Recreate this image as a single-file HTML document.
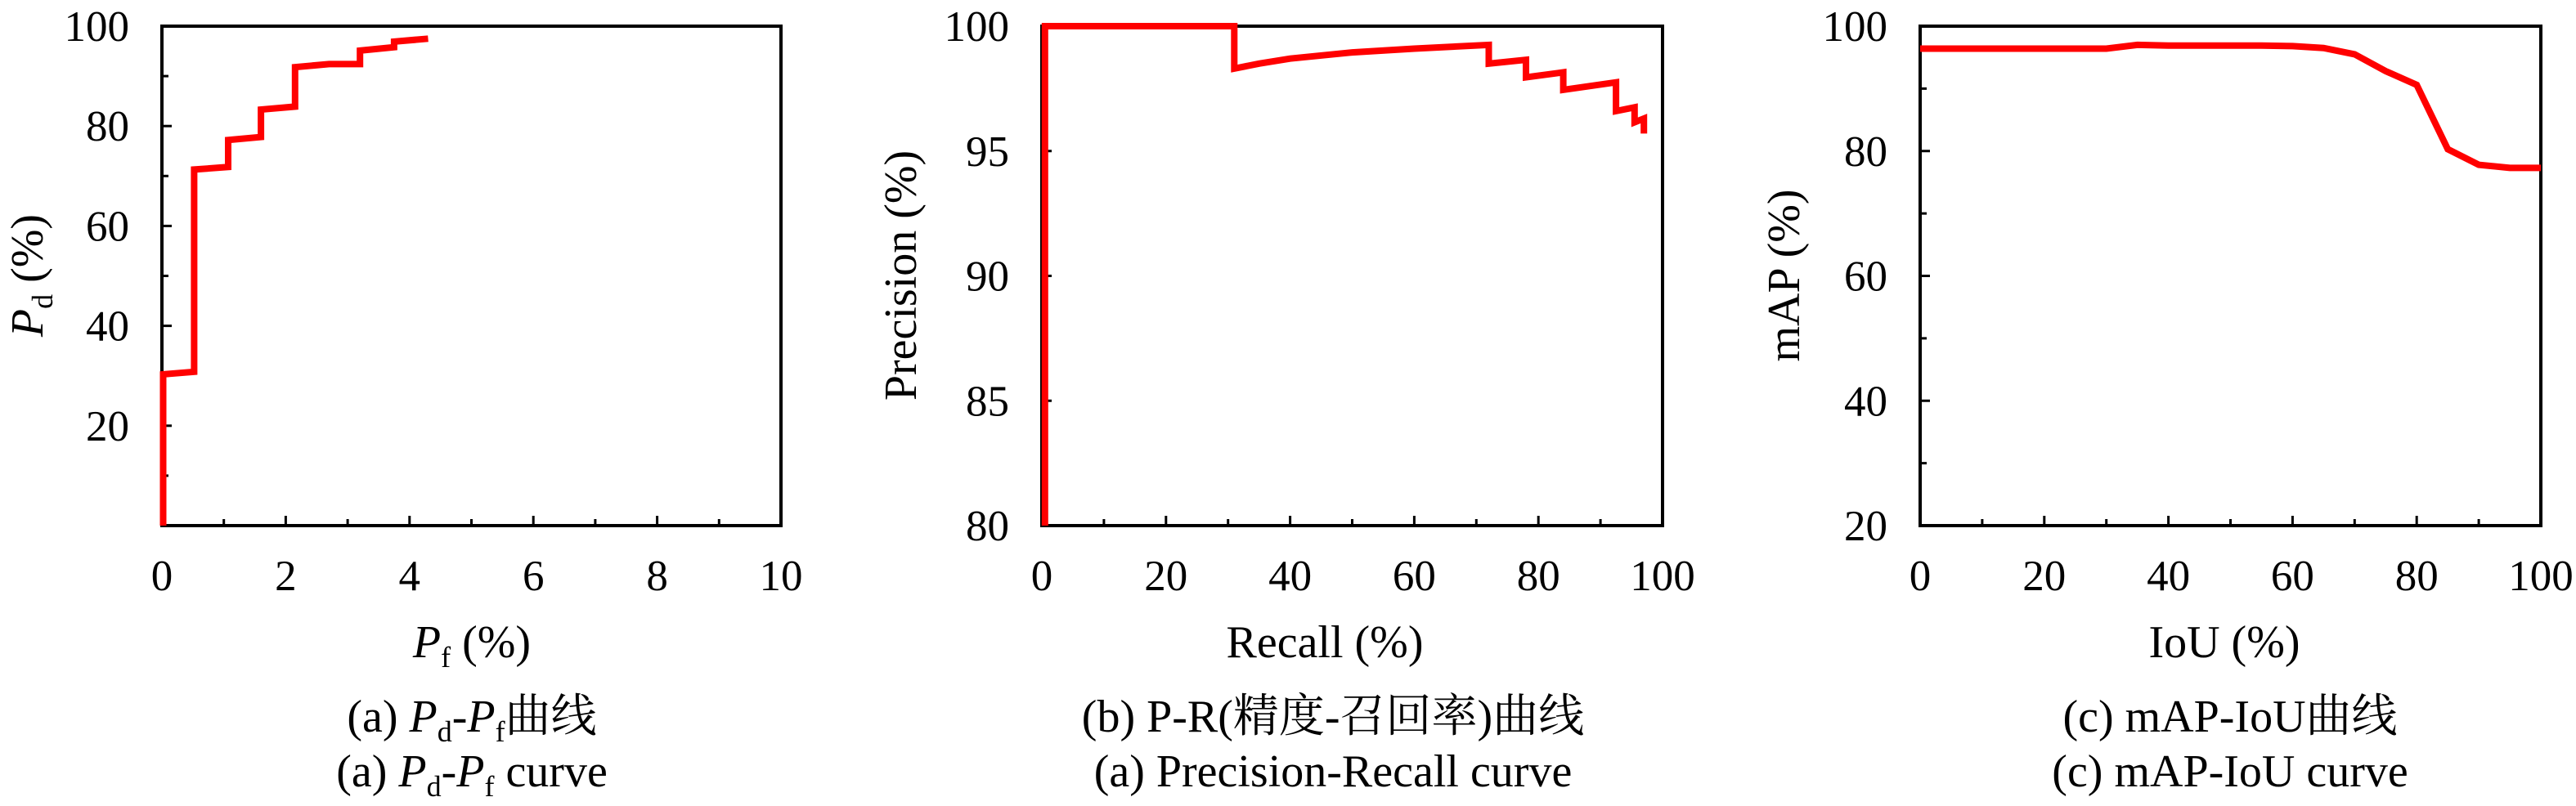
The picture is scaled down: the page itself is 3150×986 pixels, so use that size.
<!DOCTYPE html>
<html><head><meta charset="utf-8">
<style>
html,body{margin:0;padding:0;background:#fff;}
svg{display:block;}
text{font-family:"Liberation Serif","DejaVu Serif","Noto Serif CJK SC",serif;}
</style></head>
<body>
<svg id="fig" width="3150" height="986" viewBox="0 0 3150 986" xmlns="http://www.w3.org/2000/svg" font-family="Liberation Serif, DejaVu Serif, Noto Serif CJK SC, serif">
<g id="p1"></g>
<g id="p2"></g>
<g id="p3"></g>
<text x="577" y="804" font-size="56" text-anchor="middle"><tspan font-style="italic">P</tspan><tspan font-size="36" dy="12">f</tspan><tspan dy="-12"> (%)</tspan></text>
<text transform="translate(52,337) rotate(-90)" font-size="56" text-anchor="middle"><tspan font-style="italic">P</tspan><tspan font-size="36" dy="12">d</tspan><tspan dy="-12"> (%)</tspan></text>
<text x="577" y="895" font-size="56" text-anchor="middle">(a) <tspan font-style="italic">P</tspan><tspan font-size="36" dy="12">d</tspan><tspan dy="-12">-</tspan><tspan font-style="italic">P</tspan><tspan font-size="36" dy="12">f</tspan><tspan dy="-12" font-family="Noto Serif CJK SC, serif">曲线</tspan></text>
<text x="577" y="962" font-size="56" text-anchor="middle">(a) <tspan font-style="italic">P</tspan><tspan font-size="36" dy="12">d</tspan><tspan dy="-12">-</tspan><tspan font-style="italic">P</tspan><tspan font-size="36" dy="12">f</tspan><tspan dy="-12"> curve</tspan></text>

<text x="1620" y="804" font-size="56" text-anchor="middle">Recall (%)</text>
<text transform="translate(1120,337) rotate(-90)" font-size="56" text-anchor="middle">Precision (%)</text>
<text x="1630" y="895" font-size="56" text-anchor="middle">(b) P-R(<tspan font-family="Noto Serif CJK SC, serif">精度</tspan>-<tspan font-family="Noto Serif CJK SC, serif">召回率</tspan>)<tspan font-family="Noto Serif CJK SC, serif">曲线</tspan></text>
<text x="1630" y="962" font-size="56" text-anchor="middle">(a) Precision-Recall curve</text>

<text x="2720" y="804" font-size="56" text-anchor="middle">IoU (%)</text>
<text transform="translate(2200,337) rotate(-90)" font-size="56" text-anchor="middle">mAP (%)</text>
<text x="2727" y="895" font-size="56" text-anchor="middle">(c) mAP-IoU<tspan font-family="Noto Serif CJK SC, serif">曲线</tspan></text>
<text x="2727" y="962" font-size="56" text-anchor="middle">(c) mAP-IoU curve</text>
</svg>
<script>
// Panel (a) Pd-Pf
const pfX = [0.02,0.02,0.52,0.52,1.07,1.07,1.6,1.6,2.15,2.15,2.7,3.2,3.2,3.75,3.75,4.3];
const pdY = [0,30.3,30.8,71.3,71.8,77.2,77.8,83.3,83.9,91.8,92.4,92.4,95.1,95.8,96.9,97.5];
const aXTicks = [0,2,4,6,8,10];
const aYTicks = [20,40,60,80,100];
// Panel (b) Precision-Recall
const recallX = [0.5,0.5,31,31,35,40,50,60,72,72,78,78,84,84,92.5,92.5,95.5,95.5,97,97];
const precisionY = [80,100,100,98.3,98.5,98.7,98.95,99.1,99.25,98.5,98.65,97.95,98.15,97.45,97.75,96.6,96.75,96.15,96.3,95.7];
const bXTicks = [0,20,40,60,80,100];
const bYTicks = [80,85,90,95,100];
// Panel (c) mAP-IoU
const iouX = [0,5,10,15,20,25,30,35,40,45,50,55,60,65,70,75,80,85,90,95,100];
const mapY = [96.4,96.4,96.4,96.4,96.4,96.4,96.4,97.0,96.9,96.9,96.9,96.9,96.8,96.5,95.5,92.8,90.6,80.3,77.8,77.3,77.3];
const cXTicks = [0,20,40,60,80,100];
const cYTicks = [20,40,60,80,100];

const NS='http://www.w3.org/2000/svg';
function mk(parent,tag,attrs){const e=document.createElementNS(NS,tag);for(const k in attrs)e.setAttribute(k,attrs[k]);parent.appendChild(e);return e;}

function panel(id,L,R,T,B,xmin,xmax,ymin,ymax,xt,yt,xminor,yminor,xs,ys){
  const g=document.getElementById(id);
  const sx=v=>L+(v-xmin)/(xmax-xmin)*(R-L);
  const sy=v=>B-(v-ymin)/(ymax-ymin)*(B-T);
  const fr=mk(g,'rect',{x:L,y:T,width:R-L,height:B-T,fill:'none',stroke:'#000','stroke-width':4});
  
  
  xt.forEach(v=>{
    const t=mk(g,'line',{x1:sx(v),x2:sx(v),y1:B,y2:B-12,stroke:'#000','stroke-width':3});
    
    
    const tx=mk(g,'text',{x:sx(v),y:722,'font-size':53,'text-anchor':'middle'});
    
    
    tx.textContent=v;
  });
  xminor.forEach(v=>{
    const t=mk(g,'line',{x1:sx(v),x2:sx(v),y1:B,y2:B-8,stroke:'#000','stroke-width':3});
    
    
  });
  yt.forEach(v=>{
    const t=mk(g,'line',{x1:L,x2:L+12,y1:sy(v),y2:sy(v),stroke:'#000','stroke-width':3});
    
    
    const tx=mk(g,'text',{x:L-40,y:sy(v)+18,'font-size':53,'text-anchor':'end'});
    
    
    tx.textContent=v;
  });
  yminor.forEach(v=>{
    const t=mk(g,'line',{x1:L,x2:L+8,y1:sy(v),y2:sy(v),stroke:'#000','stroke-width':3});
    
    
  });
  const d=xs.map((v,i)=>(i?'L':'M')+sx(v).toFixed(1)+' '+sy(ys[i]).toFixed(1)).join(' ');
  const p=mk(g,'path',{d:d,fill:'none',stroke:'#ff0000','stroke-width':8,'stroke-linejoin':'miter'});
  
  
}
panel('p1',198,955,32,643,0,10,0,100,aXTicks,aYTicks,[1,3,5,7,9],[10,30,50,70,90],pfX,pdY);
panel('p2',1274,2033,32,643,0,100,80,100,bXTicks,bYTicks,[10,30,50,70,90],[],recallX,precisionY);
panel('p3',2348,3107,32,643,0,100,20,100,cXTicks,cYTicks,[10,30,50,70,90],[30,50,70,90],iouX,mapY);
</script>
</body></html>
